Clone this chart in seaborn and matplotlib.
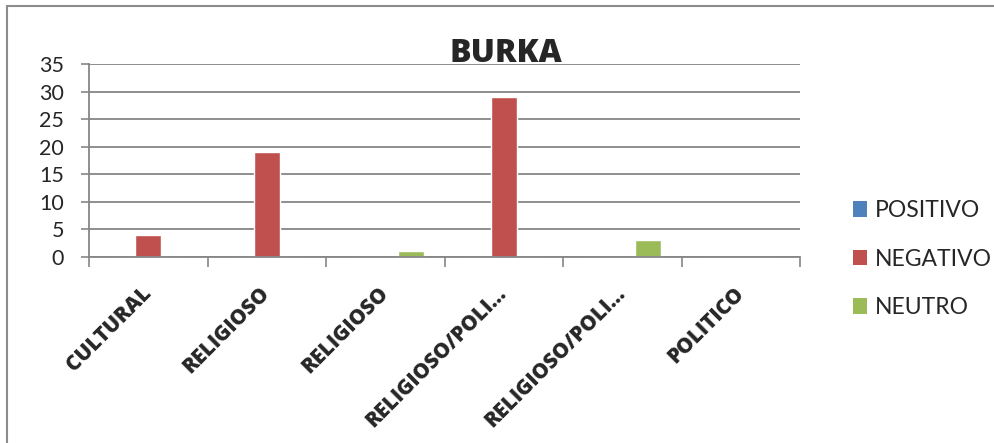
import matplotlib
matplotlib.use("Agg")
import matplotlib.pyplot as plt
from matplotlib.lines import Line2D
from matplotlib.patches import Patch
import seaborn as sns
import pandas as pd

categories = ["CULTURAL", "RELIGIOSO", "RELIGIOSO", "RELIGIOSO/POLI...", "RELIGIOSO/POLI...", "POLITICO"]
series = ["POSITIVO", "NEGATIVO", "NEUTRO"]
positivo = [0, 0, 0, 0, 0, 0]
negativo = [4, 19, 0, 29, 0, 0]
neutro = [0, 0, 1, 0, 3, 0]
colors = ["#4F81BD", "#C0504D", "#9BBB59"]
y_ticks = [0, 5, 10, 15, 20, 25, 30, 35]
title = "BURKA"

rows = []
for i in range(len(categories)):
    for s, vals in zip(series, [positivo, negativo, neutro]):
        rows.append({"pos": i, "serie": s, "valor": vals[i]})
df = pd.DataFrame(rows)

sns.set_theme(style="white")
plt.rcParams["font.family"] = ["Lato", "DejaVu Sans"]
bold_family = ["Open Sans", "DejaVu Sans"]

fig = plt.figure(figsize=(9.95, 4.43), dpi=100)
ax = fig.add_axes([89/995, 1-257/443, (800-89)/995, (257-64)/443])

sns.barplot(data=df, x="pos", y="valor", hue="serie", hue_order=series,
            palette=colors, width=0.66, gap=0, ax=ax, legend=False,
            saturation=1, errorbar=None)

grid_c = "#868686"
ax.set_ylim(0, 35)
ax.set_xlim(-0.5, len(categories) - 0.5)
ax.set_yticks(y_ticks)
ax.set_yticklabels([str(v) for v in y_ticks], fontsize=15.5)
ax.yaxis.grid(True, color=grid_c, linewidth=1.3)
ax.set_axisbelow(True)
ax.tick_params(axis="y", length=6, width=1.2, color=grid_c, direction="out", pad=12, left=True)

ax.set_xticks(range(len(categories)))
ax.set_xticklabels(categories, rotation=45, ha="right", va="center",
                   rotation_mode="anchor", fontsize=15, fontweight="heavy",
                   family=bold_family)
ax.tick_params(axis="x", length=0, pad=24)
ax.set_xticks([i - 0.5 for i in range(len(categories) + 1)], minor=True)
ax.tick_params(axis="x", which="minor", length=7, width=1.2, color=grid_c, direction="out", bottom=True)

for s in ["top", "right"]:
    ax.spines[s].set_visible(False)
for s in ["left", "bottom"]:
    ax.spines[s].set_color(grid_c)
    ax.spines[s].set_linewidth(1.3)
ax.set_xlabel("")
ax.set_ylabel("")

fig.text(506/995, 1-62/443, title, ha="center", va="baseline", fontsize=23,
         fontweight="heavy", family=bold_family)

handles = [Patch(facecolor=c, edgecolor="none", label=s) for c, s in zip(colors, series)]
fig.legend(handles=handles, loc="center left", bbox_to_anchor=(842/995, 1-259/443),
           frameon=False, fontsize=16.5, handlelength=0.6, handleheight=0.65,
           handletextpad=0.35, labelspacing=1.2, borderpad=0)

fig.add_artist(Line2D([7/995, 1], [1-6/443, 1-6/443], color="#8c8c8c", linewidth=1.5, transform=fig.transFigure))
fig.add_artist(Line2D([7/995, 7/995], [0, 1-6/443], color="#8c8c8c", linewidth=1.5, transform=fig.transFigure))

fig.savefig("out.png", dpi=100, facecolor="white")
